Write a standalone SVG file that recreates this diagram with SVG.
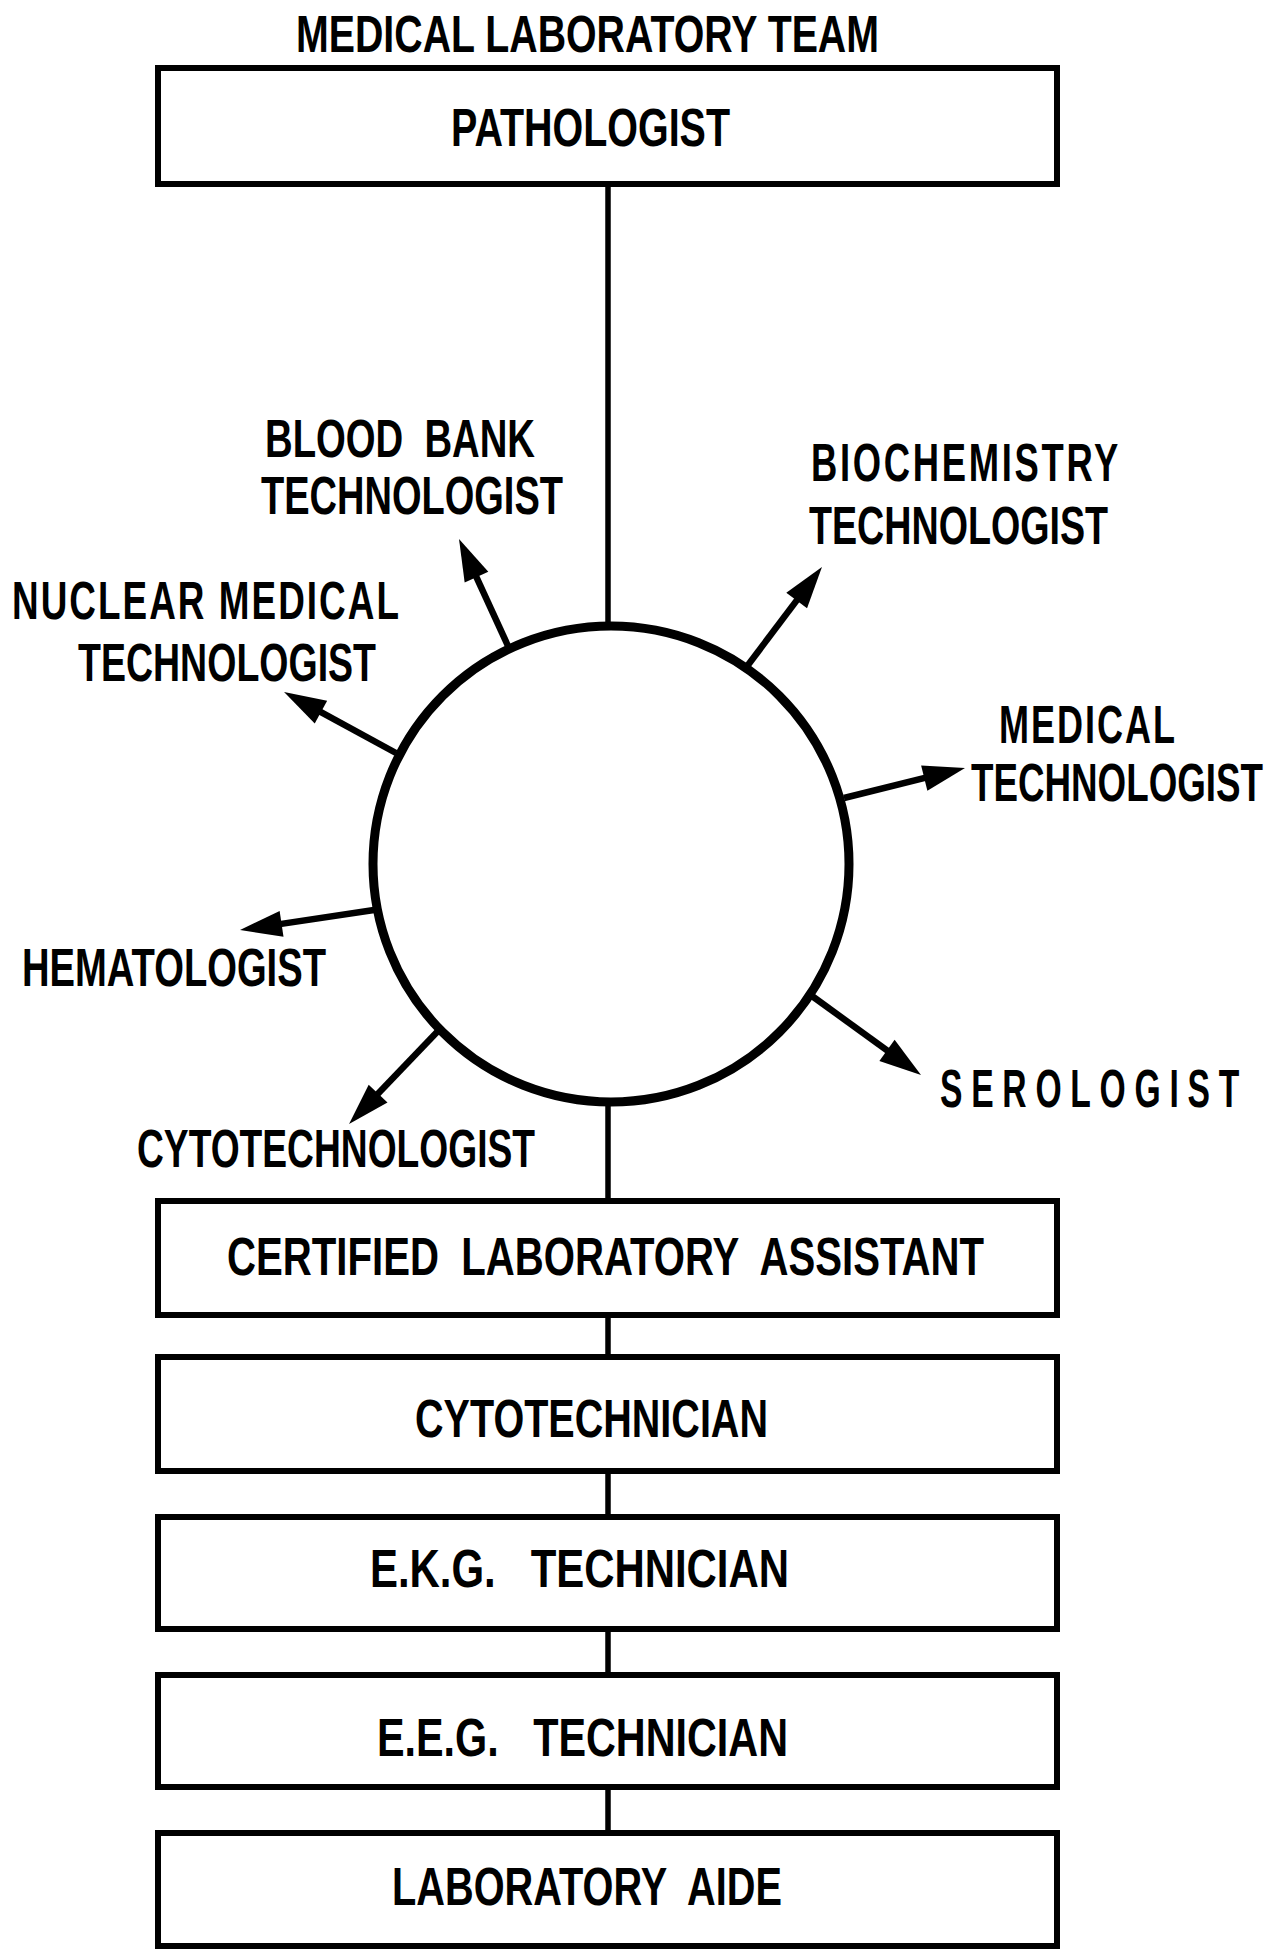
<svg xmlns="http://www.w3.org/2000/svg" width="1275" height="1952" viewBox="0 0 1275 1952">
<style>
.box{fill:#fff;stroke:#000;stroke-width:6}
.lbl{font-family:"Liberation Sans","DejaVu Sans",sans-serif;font-weight:bold;font-size:54px;fill:#000;white-space:pre}
.con{stroke:#000;stroke-width:5.5;fill:none}
.arr{stroke:#000;stroke-width:6.5;fill:none;marker-end:url(#ah)}
</style>
<defs>
<marker id="ah" markerUnits="userSpaceOnUse" markerWidth="46" markerHeight="30" refX="12" refY="13" orient="auto" overflow="visible">
<path d="M0,0 L42,13 L0,26 z" fill="#000"/>
</marker>
</defs>
<rect width="1275" height="1952" fill="#fff"/>
<text class="lbl" x="296" y="52" textLength="583" lengthAdjust="spacingAndGlyphs" style="font-size:51px">MEDICAL LABORATORY TEAM</text>

<g id="connectors">
<line class="con" x1="608" y1="184" x2="608" y2="626"/>
<line class="con" x1="608" y1="1102" x2="608" y2="1201"/>
<line class="con" x1="608" y1="1315" x2="608" y2="1357"/>
<line class="con" x1="608" y1="1471" x2="608" y2="1517"/>
<line class="con" x1="608" y1="1629" x2="608" y2="1675"/>
<line class="con" x1="608" y1="1787" x2="608" y2="1833"/>
<line class="arr" x1="508" y1="646" x2="471.5" y2="566.3"/>
<line class="arr" x1="745" y1="669" x2="803.9" y2="590.9"/>
<line class="arr" x1="396" y1="753" x2="310.4" y2="706.4"/>
<line class="arr" x1="844" y1="798" x2="935.9" y2="775.2"/>
<line class="arr" x1="374" y1="910" x2="269.7" y2="925.6"/>
<line class="arr" x1="812" y1="996" x2="896.7" y2="1057.4"/>
<line class="arr" x1="438" y1="1031" x2="369.8" y2="1102.3"/>
</g>

<g id="pathologist">
<rect class="box" x="158" y="68" width="899" height="116"/>
<text class="lbl" x="451" y="146" textLength="279" lengthAdjust="spacingAndGlyphs">PATHOLOGIST</text>
</g>

<g id="team-circle">
<circle cx="611" cy="864" r="238" fill="#fff" stroke="#000" stroke-width="9"/>
</g>

<g id="blood-bank">
<text class="lbl" x="265" y="457" textLength="270" lengthAdjust="spacingAndGlyphs">BLOOD  BANK</text>
<text class="lbl" x="261" y="514" textLength="302" lengthAdjust="spacingAndGlyphs">TECHNOLOGIST</text>
</g>
<g id="biochemistry">
<text class="lbl" x="811" y="481" textLength="310" lengthAdjust="spacingAndGlyphs" letter-spacing="4">BIOCHEMISTRY</text>
<text class="lbl" x="809" y="544" textLength="299" lengthAdjust="spacingAndGlyphs">TECHNOLOGIST</text>
</g>
<g id="nuclear">
<text class="lbl" x="12" y="619" textLength="389" lengthAdjust="spacingAndGlyphs" letter-spacing="3">NUCLEAR MEDICAL</text>
<text class="lbl" x="78" y="681" textLength="298" lengthAdjust="spacingAndGlyphs">TECHNOLOGIST</text>
</g>
<g id="medical-tech">
<text class="lbl" x="999" y="743" textLength="178" lengthAdjust="spacingAndGlyphs" letter-spacing="3">MEDICAL</text>
<text class="lbl" x="971" y="801" textLength="292" lengthAdjust="spacingAndGlyphs">TECHNOLOGIST</text>
</g>
<g id="hematologist">
<text class="lbl" x="22" y="986" textLength="304" lengthAdjust="spacingAndGlyphs">HEMATOLOGIST</text>
</g>
<g id="serologist">
<text class="lbl" x="940" y="1107" textLength="308" lengthAdjust="spacingAndGlyphs" letter-spacing="14">SEROLOGIST</text>
</g>
<g id="cytotechnologist">
<text class="lbl" x="137" y="1167" textLength="398" lengthAdjust="spacingAndGlyphs">CYTOTECHNOLOGIST</text>
</g>

<g id="cla">
<rect class="box" x="158" y="1201" width="899" height="114"/>
<text class="lbl" x="227" y="1275" textLength="757" lengthAdjust="spacingAndGlyphs">CERTIFIED  LABORATORY  ASSISTANT</text>
</g>
<g id="cytotechnician">
<rect class="box" x="158" y="1357" width="899" height="114"/>
<text class="lbl" x="415" y="1437" textLength="353" lengthAdjust="spacingAndGlyphs">CYTOTECHNICIAN</text>
</g>
<g id="ekg">
<rect class="box" x="158" y="1517" width="899" height="112"/>
<text class="lbl" x="370" y="1587" textLength="419" lengthAdjust="spacingAndGlyphs">E.K.G.   TECHNICIAN</text>
</g>
<g id="eeg">
<rect class="box" x="158" y="1675" width="899" height="112"/>
<text class="lbl" x="377" y="1756" textLength="411" lengthAdjust="spacingAndGlyphs">E.E.G.   TECHNICIAN</text>
</g>
<g id="aide">
<rect class="box" x="158" y="1833" width="899" height="113"/>
<text class="lbl" x="392" y="1905" textLength="390" lengthAdjust="spacingAndGlyphs">LABORATORY  AIDE</text>
</g>
</svg>
